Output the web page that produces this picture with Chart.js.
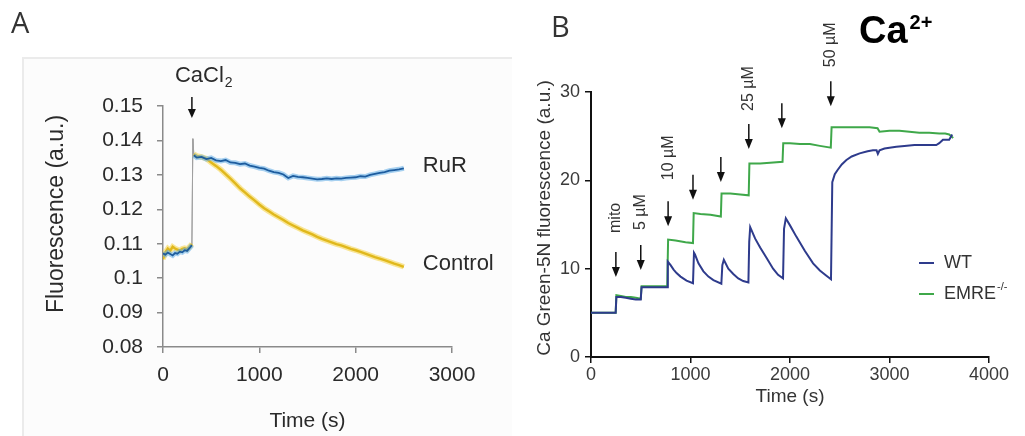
<!DOCTYPE html>
<html><head><meta charset="utf-8">
<script src="https://cdn.jsdelivr.net/npm/chart.js@4"></script>
<style>
html,body{margin:0;padding:0;background:#fff;overflow:hidden;}
#wrap{position:relative;width:1025px;height:436px;}
#cA{position:absolute;left:0;top:0;}
#cB{position:absolute;left:512px;top:0;}
</style></head><body>
<div id="wrap"><canvas id="cA" width="512" height="436"></canvas><canvas id="cB" width="513" height="436"></canvas></div>
<script>
// ---------- Panel A data ----------
const timeA_pre = [0,25,50,75,100,125,150,175,200,225,250,275,300];
const rurPre = [0.1072,0.1068,0.1074,0.1070,0.1066,0.1073,0.1071,0.1077,0.1075,0.1081,0.1079,0.1087,0.1096];
const controlPre = [0.1055,0.1075,0.1086,0.1080,0.1091,0.1086,0.1083,0.1080,0.1085,0.1087,0.1084,0.1091,0.1099];
const jumpTimeA = 310;
const jumpPeakA = 0.1405;
const timeA_post = [320,350,400,450,500,550,600,650,700,750,800,850,900,950,1000,1050,1100,1150,1200,1250,1300,1350,1400,1450,1500,1550,1600,1650,1700,1750,1800,1850,1900,1950,2000,2050,2100,2150,2200,2250,2300,2350,2400,2450,2500];
const rurPost = [0.1357,0.1350,0.1352,0.1346,0.1349,0.1342,0.1340,0.1343,0.1336,0.1335,0.1331,0.1333,0.1327,0.1324,0.1320,0.1318,0.1312,0.1308,0.1306,0.1301,0.1291,0.1297,0.1294,0.1293,0.1291,0.1289,0.1287,0.1288,0.1290,0.1288,0.1290,0.1289,0.1291,0.1292,0.1293,0.1296,0.1295,0.1300,0.1303,0.1306,0.1308,0.1312,0.1314,0.1316,0.1319];
const controlPost = [0.1360,0.1355,0.1352,0.1347,0.1336,0.1326,0.1315,0.1302,0.1289,0.1275,0.1261,0.1249,0.1237,0.1226,0.1214,0.1203,0.1194,0.1185,0.1177,0.1169,0.1160,0.1153,0.1146,0.1139,0.1133,0.1127,0.1120,0.1114,0.1109,0.1104,0.1099,0.1095,0.1090,0.1085,0.1081,0.1076,0.1071,0.1066,0.1061,0.1057,0.1052,0.1047,0.1042,0.1038,0.1033];
const xTicksA = [0,1000,2000,3000];
const xTickLabelsA = ['0','1000','2000','3000'];
const yTicksA = [0.08,0.09,0.10,0.11,0.12,0.13,0.14,0.15];
const yTickLabelsA = ['0.08','0.09','0.1','0.11','0.12','0.13','0.14','0.15'];
const seriesLabelsA = ['RuR','Control'];
const cacl2Time = 300;
const cacl2TipValue = 0.1465;

// ---------- Panel B data ----------
const timeWT = [0,248,255,300,350,400,450,500,508,600,700,766,772,800,830,860,900,960,1025,1035,1045,1080,1130,1180,1230,1310,1320,1335,1380,1430,1480,1530,1582,1590,1600,1650,1700,1765,1830,1880,1930,1940,1958,2000,2065,2150,2232,2300,2366,2412,2425,2450,2480,2520,2567,2620,2700,2780,2834,2870,2883,2900,2950,3000,3069,3150,3250,3350,3470,3500,3537,3600,3630];
const valWT = [5.0,5.0,6.8,6.8,6.7,6.6,6.5,6.5,7.9,7.9,7.9,7.9,10.8,10.4,9.9,9.5,9.1,8.65,8.35,11.8,11.6,10.6,9.7,9.1,8.7,8.3,10.4,11.0,10.0,9.4,8.9,8.6,8.45,13.0,14.7,13.4,12.4,11.2,10.0,9.3,8.9,14.5,15.7,14.9,13.6,12.0,10.6,9.8,9.2,8.8,19.8,20.7,21.2,21.8,22.3,22.7,23.05,23.3,23.4,23.4,23.0,23.4,23.6,23.7,23.8,23.9,24.0,24.0,24.0,24.2,24.6,24.6,25.2];
const timeEMRE = [0,248,255,300,350,400,450,500,508,600,700,766,775,850,950,1025,1032,1100,1200,1305,1312,1400,1500,1585,1592,1700,1800,1925,1932,2000,2100,2200,2300,2410,2418,2500,2600,2700,2800,2880,2900,3000,3100,3200,3300,3400,3500,3560,3600,3640];
const valEMRE = [5.0,5.0,7.0,6.9,6.8,6.8,6.7,6.6,8.0,8.0,8.0,8.0,13.3,13.2,13.0,12.9,16.3,16.2,16.1,15.9,18.5,18.5,18.4,18.3,21.9,21.9,22.0,22.1,24.2,24.2,24.1,24.1,23.9,23.7,26.0,26.0,26.0,26.0,26.0,25.9,25.5,25.6,25.6,25.5,25.4,25.4,25.3,25.3,25.2,24.8];
const xTicksB = [0,1000,2000,3000,4000];
const xTickLabelsB = ['0','1000','2000','3000','4000'];
const yTicksB = [0,10,20,30];
const yTickLabelsB = ['0','10','20','30'];
const additionTimes = [250,500,775,1025,1305,1586,1918,2410];
const additionTipValues = [9.06,9.85,14.8,17.8,19.8,23.55,25.9,28.4];
const additionLabels = ['mito','5 µM','10 µM','','','25 µM','','50 µM'];
const seriesLabelsB = ['WT','EMRE'];

// ---------- styling (not data) ----------
const FAM = "'Liberation Sans', Arial, Helvetica, sans-serif";
const labelGapB = [19,15,21,0,0,13,0,14];
const colRuR = '#1d5c9e', colRuRHalo = 'rgba(95,172,230,0.55)';
const colCtl = '#e0b81c', colCtlHalo = 'rgba(246,214,80,0.6)';
const colWT = '#2e3b8c', colEMRE = '#3fa84a';

function pts(xs, ys){ return xs.map((x,i)=>({x:x,y:ys[i]})); }
function arrow(ctx, x, yTop, yTip, head){
  ctx.save();
  ctx.strokeStyle = '#111'; ctx.fillStyle = '#111'; ctx.lineWidth = 1.5;
  ctx.beginPath(); ctx.moveTo(x, yTop); ctx.lineTo(x, yTip - head + 1); ctx.stroke();
  ctx.beginPath(); ctx.moveTo(x - 4, yTip - head); ctx.lineTo(x + 4, yTip - head); ctx.lineTo(x, yTip); ctx.closePath(); ctx.fill();
  ctx.restore();
}

// ---------- Chart A ----------
const rurData = pts(timeA_pre, rurPre).concat([{x: jumpTimeA, y: null}], pts(timeA_post, rurPost));
const ctlData = pts(timeA_pre, controlPre).concat([{x: jumpTimeA, y: null}], pts(timeA_post, controlPost));
const jumpRuR = [{x: timeA_pre[timeA_pre.length-1], y: rurPre[rurPre.length-1]}, {x: jumpTimeA, y: jumpPeakA}, {x: timeA_post[0], y: rurPost[0]}];
const jumpCtl = [{x: timeA_pre[timeA_pre.length-1], y: controlPre[controlPre.length-1]}, {x: jumpTimeA, y: jumpPeakA}, {x: timeA_post[0], y: controlPost[0]}];

const plugA = {
  id: 'annA',
  beforeDraw(chart){
    const ctx = chart.ctx;
    ctx.save();
    ctx.fillStyle = '#fcfcfc';
    ctx.fillRect(23, 58, 489, 378);
    ctx.strokeStyle = '#ebebeb'; ctx.lineWidth = 2;
    ctx.beginPath(); ctx.moveTo(23, 436); ctx.lineTo(23, 58); ctx.lineTo(512, 58); ctx.stroke();
    ctx.restore();
  },
  afterDraw(chart){
    const ctx = chart.ctx, xs = chart.scales.x, ys = chart.scales.y;
    ctx.save();
    ctx.fillStyle = '#333';
    ctx.font = "29px 'Open Sans', sans-serif";
    ctx.textBaseline = 'alphabetic'; ctx.textAlign = 'left';
    ctx.fillText('A', 11, 33);
    // y title
    ctx.fillStyle = '#2a2a2a';
    ctx.font = '23px ' + FAM;
    ctx.save(); ctx.translate(57, 214); ctx.rotate(-Math.PI/2);
    ctx.textAlign = 'center'; ctx.textBaseline = 'middle';
    ctx.fillText('Fluorescence (a.u.)', 0, 0); ctx.restore();
    // CaCl2 arrow + label
    const ax = xs.getPixelForValue(cacl2Time), tip = ys.getPixelForValue(cacl2TipValue);
    arrow(ctx, ax, tip - 21, tip, 9);
    ctx.font = '22px ' + FAM; ctx.textAlign = 'left'; ctx.textBaseline = 'alphabetic';
    const lx = ax - 17;
    ctx.fillText('CaCl', lx, 82);
    const w = ctx.measureText('CaCl').width;
    ctx.font = '14px ' + FAM;
    ctx.fillText('2', lx + w + 1, 87);
    // series labels
    ctx.font = '22px ' + FAM; ctx.textBaseline = 'middle';
    const ex = xs.getPixelForValue(timeA_post[timeA_post.length-1]) + 19;
    ctx.fillText(seriesLabelsA[0], ex, ys.getPixelForValue(rurPost[rurPost.length-1]) - 2);
    ctx.fillText(seriesLabelsA[1], ex, ys.getPixelForValue(controlPost[controlPost.length-1]) - 3);
    ctx.restore();
  }
};

new Chart(document.getElementById('cA'), {
  type: 'line',
  data: { datasets: [
    { label: seriesLabelsA[0], data: rurData, borderColor: colRuR, borderWidth: 1.8, pointRadius: 0, spanGaps: false },
    { label: seriesLabelsA[0] + ' halo', data: rurData, borderColor: colRuRHalo, borderWidth: 5, pointRadius: 0, spanGaps: false },
    { label: seriesLabelsA[1], data: ctlData, borderColor: colCtl, borderWidth: 2.4, pointRadius: 0, spanGaps: false },
    { label: seriesLabelsA[1] + ' halo', data: ctlData, borderColor: colCtlHalo, borderWidth: 5.5, pointRadius: 0, spanGaps: false },
    { label: 'jump1', data: jumpRuR, borderColor: '#a0a0a0', borderWidth: 1, pointRadius: 0 },
    { label: 'jump2', data: jumpCtl, borderColor: '#a0a0a0', borderWidth: 1, pointRadius: 0 }
  ]},
  options: {
    responsive: false, animation: false, events: [],
    layout: { padding: { left: 40, right: 60, top: 106, bottom: 0 } },
    plugins: { legend: { display: false }, tooltip: { enabled: false } },
    scales: {
      x: { type: 'linear', min: 0, max: 3000,
        afterBuildTicks: s => { s.ticks = xTicksA.map(v => ({value: v})); },
        afterFit: s => { s.height = 89; },
        ticks: { font: { size: 21, family: FAM }, color: '#2a2a2a', padding: 10, maxRotation: 0, autoSkip: false,
          callback: (v, i) => xTickLabelsA[i] },
        grid: { drawOnChartArea: false, drawTicks: true, tickLength: 6, color: '#8a8a8a', lineWidth: 1.5 },
        border: { display: true, color: '#8a8a8a', width: 1.5 },
        title: { display: true, text: 'Time (s)', font: { size: 21, family: FAM }, color: '#2a2a2a', padding: { top: 0, bottom: 2.4 } }
      },
      y: { type: 'linear', min: 0.08, max: 0.15,
        afterBuildTicks: s => { s.ticks = yTicksA.map(v => ({value: v})); },
        afterFit: s => { s.width = 123; },
        ticks: { font: { size: 21, family: FAM }, color: '#2a2a2a', padding: 14, autoSkip: false,
          callback: (v, i) => yTickLabelsA[i] },
        grid: { drawOnChartArea: false, drawTicks: true, tickLength: 6, color: '#8a8a8a', lineWidth: 1.5 },
        border: { display: true, color: '#8a8a8a', width: 1.5 }
      }
    }
  },
  plugins: [plugA]
});

// ---------- Chart B ----------
const plugB = {
  id: 'annB',
  afterDraw(chart){
    const ctx = chart.ctx, xs = chart.scales.x, ys = chart.scales.y;
    ctx.save();
    ctx.fillStyle = '#333';
    ctx.font = "29px 'Open Sans', sans-serif";
    ctx.textAlign = 'left'; ctx.textBaseline = 'alphabetic';
    ctx.fillText('B', 39, 37);
    // Ca2+
    ctx.fillStyle = '#000';
    ctx.font = 'bold 38px ' + FAM;
    ctx.fillText('Ca', 347, 43);
    const wca = ctx.measureText('Ca').width;
    ctx.font = 'bold 20px ' + FAM;
    ctx.fillText('2+', 347 + wca + 2, 29);
    // y title
    ctx.fillStyle = '#333';
    ctx.font = '19px ' + FAM;
    ctx.save(); ctx.translate(32.5, 218); ctx.rotate(-Math.PI/2);
    ctx.textAlign = 'center'; ctx.textBaseline = 'middle';
    ctx.fillText('Ca Green-5N fluorescence (a.u.)', 0, 0); ctx.restore();
    // arrows + labels
    ctx.font = '16px ' + FAM;
    additionTimes.forEach((t, i) => {
      const x = xs.getPixelForValue(t), tip = ys.getPixelForValue(additionTipValues[i]);
      const top = tip - 25;
      arrow(ctx, x, top, tip, 10);
      if (additionLabels[i]) {
        ctx.save(); ctx.translate(x, top - labelGapB[i]); ctx.rotate(-Math.PI/2);
        ctx.textAlign = 'left'; ctx.textBaseline = 'middle'; ctx.fillStyle = '#333';
        ctx.fillText(additionLabels[i], 0, 0); ctx.restore();
      }
    });
    // legend
    ctx.font = '18px ' + FAM; ctx.textBaseline = 'middle'; ctx.textAlign = 'left';
    const cols = [colWT, colEMRE], ly = [263, 294];
    for (let i = 0; i < 2; i++) {
      ctx.strokeStyle = cols[i]; ctx.lineWidth = 2;
      ctx.beginPath(); ctx.moveTo(407, ly[i]); ctx.lineTo(422, ly[i]); ctx.stroke();
      ctx.fillStyle = '#333';
      ctx.fillText(seriesLabelsB[i], 432, ly[i]);
    }
    const we = ctx.measureText(seriesLabelsB[1]).width;
    ctx.font = '11px ' + FAM;
    ctx.fillText('-/-', 432 + we + 1, ly[1] - 7);
    ctx.restore();
  }
};

new Chart(document.getElementById('cB'), {
  type: 'line',
  data: { datasets: [
    { label: seriesLabelsB[0], data: pts(timeWT, valWT), borderColor: colWT, borderWidth: 2, pointRadius: 0 },
    { label: seriesLabelsB[1], data: pts(timeEMRE, valEMRE), borderColor: colEMRE, borderWidth: 2, pointRadius: 0 }
  ]},
  options: {
    responsive: false, animation: false, events: [],
    layout: { padding: { left: 0, right: 36, top: 92, bottom: 0 } },
    plugins: { legend: { display: false }, tooltip: { enabled: false } },
    scales: {
      x: { type: 'linear', min: 0, max: 4000,
        afterBuildTicks: s => { s.ticks = xTicksB.map(v => ({value: v})); },
        afterFit: s => { s.height = 79; },
        ticks: { font: { size: 18, family: FAM }, color: '#3a3a3a', padding: 1, maxRotation: 0, autoSkip: false,
          callback: (v, i) => xTickLabelsB[i] },
        grid: { drawOnChartArea: false, drawTicks: true, tickLength: 6, color: '#111', lineWidth: 1.5 },
        border: { display: true, color: '#111', width: 2 },
        title: { display: true, text: 'Time (s)', font: { size: 19, family: FAM }, color: '#333', padding: { top: 0, bottom: 27.6 } }
      },
      y: { type: 'linear', min: 0, max: 30,
        afterBuildTicks: s => { s.ticks = yTicksB.map(v => ({value: v})); },
        afterFit: s => { s.width = 79; },
        ticks: { font: { size: 18, family: FAM }, color: '#3a3a3a', padding: 5, autoSkip: false,
          callback: (v, i) => yTickLabelsB[i] },
        grid: { drawOnChartArea: false, drawTicks: true, tickLength: 6, color: '#111', lineWidth: 1.5 },
        border: { display: true, color: '#111', width: 2 }
      }
    }
  },
  plugins: [plugB]
});
</script>
</body></html>
